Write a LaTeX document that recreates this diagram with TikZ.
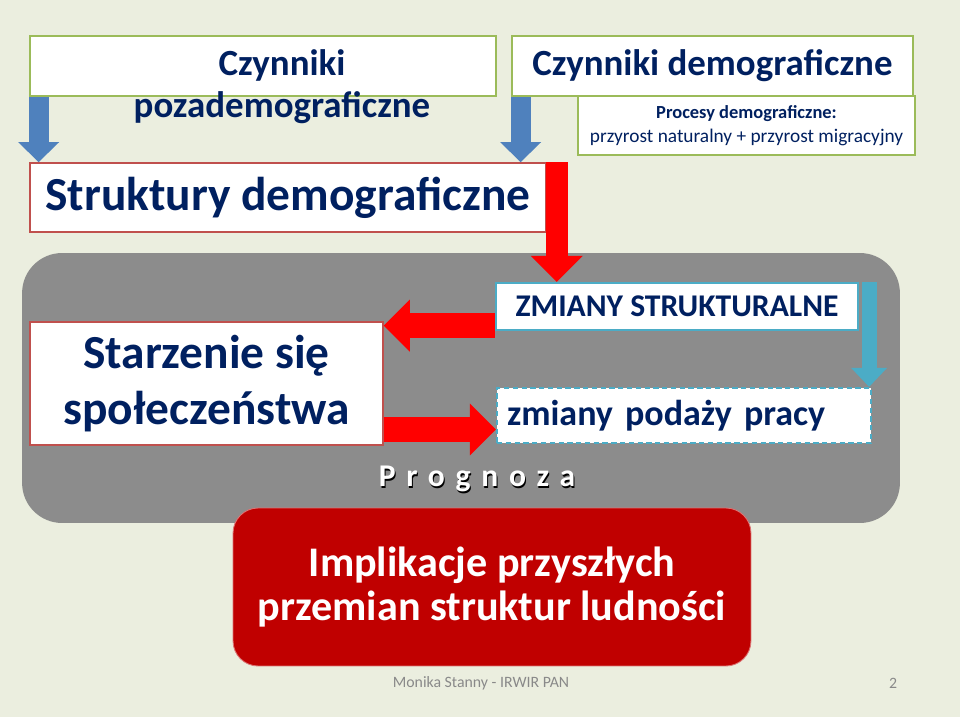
\documentclass[tikz,border=0pt]{standalone}
\usepackage{fontspec}
\setmainfont{Carlito}
\usetikzlibrary{arrows.meta,positioning,calc}
\definecolor{PDnavy}{RGB}{0,32,96}
\definecolor{PDgreen}{RGB}{155,187,89}
\definecolor{PDred}{RGB}{192,80,77}
\definecolor{PDblue}{RGB}{79,129,189}
\definecolor{PDteal}{RGB}{75,172,198}
\definecolor{PDbright}{RGB}{255,0,0}
\definecolor{PDdark}{RGB}{192,0,0}
\definecolor{PDgray}{RGB}{140,140,140}
\definecolor{PDbg}{RGB}{235,238,223}
\definecolor{PDfoot}{RGB}{137,137,137}
\newcommand{\fsz}[2]{\fontsize{#1}{#2}\selectfont}
\tikzset{
  factor/.style={draw=PDgreen,line width=1.6pt,fill=white,text=PDnavy,
                 align=center,inner sep=0pt},
  struct/.style={draw=PDred,line width=1pt,fill=white,text=PDnavy,
                 align=center,inner sep=0pt},
  change/.style={draw=PDteal,line width=1.3pt,fill=white,text=PDnavy,
                 inner sep=0pt},
  panel/.style={fill=PDgray,rounded corners=0.8cm,inner sep=0pt},
  impl/.style={fill=PDdark,draw=PDdark!55!white,line width=0.5pt,rounded corners=0.5cm,
               text=white,align=center,inner sep=0pt,font=\bfseries\fsz{24}{25.5}},
  fcast/.style={font=\bfseries\fsz{18}{20}\addfontfeatures{LetterSpace=34}},
  bluearr/.style={draw=PDblue,line width=0.4cm,-{Triangle[length=0.4cm,width=0.82cm,line width=0pt]}},
  redarr/.style={draw=PDbright,line width=0.5cm,-{Triangle[length=0.52cm,width=1.04cm,line width=0pt]}},
  tealarr/.style={draw=PDteal,line width=0.3cm,-{Triangle[length=0.38cm,width=0.72cm,line width=0pt]}}
}

\begin{document}
\begin{tikzpicture}[x=0.02cm,y=-0.02cm]
  \fill[PDbg] (0,0) rectangle (960,717);
  % top factors
  \node[factor,minimum width=9.32cm,minimum height=1.2cm] (cp) at (263,66) {};
  \node[text=PDnavy,align=center,font=\bfseries\fsz{21}{24}] (cpt) at (282,87) {Czynniki\\pozademograficzne};
  \node[factor,minimum width=6.74cm,minimum height=1.18cm,font=\fsz{11}{14}] (pr) at (746.5,125.5)
    {{\bfseries\fsz{10.5}{14}Procesy demograficzne:}\\przyrost naturalny + przyrost migracyjny};
  \node[factor,minimum width=8.02cm,minimum height=1.2cm,font=\bfseries\fsz{21}{24}] (cd) at (712.5,66) {Czynniki demograficzne};
  \node[struct,minimum width=10.32cm,minimum height=1.38cm,font=\bfseries\fsz{27}{30}] (sd) at (288,197.5) {Struktury demograficzne};
  % forecast panel
  \node[panel,minimum width=17.56cm,minimum height=5.4cm] (pn) at (461,388) {};
  \node[struct,minimum width=7.06cm,minimum height=2.46cm,font=\bfseries\fsz{27}{31.5}] (st) at (206.5,383.5) {Starzenie się\\społeczeństwa};
  \node[change,minimum width=7.24cm,minimum height=0.94cm,font=\bfseries\fsz{18}{20}] (zm) at (677,306.5) {ZMIANY STRUKTURALNE};
  \node[change,dashed,dash pattern=on 3pt off 2pt,minimum height=1.1cm,inner xsep=0.2cm,text width=7.08cm,
        align=left,font=\bfseries\fsz{20.5}{22}] (pd) at (684,415.5) {zmiany podaży pracy};
  \node[fcast,text=black] at (478,481) {Prognoza};
  \node[fcast,text=white] (pg) at (477,478.5) {Prognoza};
  \node[impl,minimum width=10.36cm,minimum height=3.16cm] (im) at (492,587) {Implikacje przyszłych\\przemian struktur ludności};
  % footer
  \node[text=PDfoot,font=\fsz{9}{11}] (ft) at (481,683) {Monika Stanny - IRWIR PAN};
  \node[text=PDfoot,font=\fsz{9}{11}] (pno) at (893,683) {2};
  % arrows
  \coordinate (b1) at ([xshift=0.2cm]cp.south west);
  \coordinate (b2) at ([xshift=0.2cm]cd.south west);
  \draw[bluearr] (b1) -- (b1 |- sd.north);
  \draw[bluearr] (b2) -- (b2 |- sd.north);
  \coordinate (r1) at ([xshift=0.2cm]sd.north east);
  \draw[redarr,line width=0.44cm] (r1) -- (r1 |- zm.north);
  \coordinate (t1) at ([xshift=0.2cm]zm.north east);
  \draw[tealarr] (t1) -- (t1 |- pd.north);
  \coordinate (r2) at ([yshift=0.11cm]zm.south west);
  \draw[redarr] (r2) -- (r2 -| st.east);
  \coordinate (r3) at ([yshift=-0.28cm]pd.west);
  \draw[redarr] (r3 -| st.east) -- (r3);
\end{tikzpicture}
\end{document}
